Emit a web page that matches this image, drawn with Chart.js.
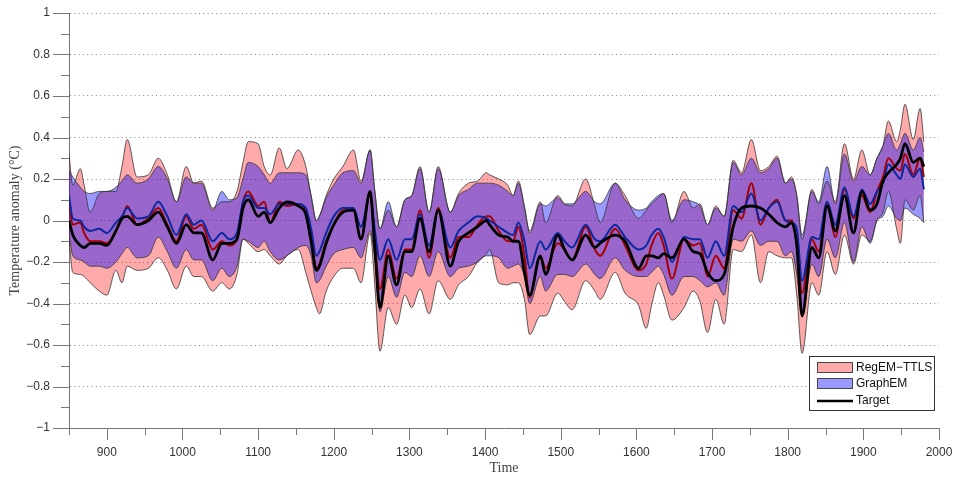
<!DOCTYPE html>
<html>
<head>
<meta charset="utf-8">
<script src="https://cdn.jsdelivr.net/npm/chart.js@4.4.0/dist/chart.umd.min.js"></script>
<style>
  html, body { margin: 0; background: #fff; }
  #wrap { width: 954px; height: 477px; }
</style>
</head>
<body>
<div id="wrap"><canvas id="chart" width="954" height="477"></canvas></div>
<script>
// Years of the readings (non-uniform, placed at the wiggles)
const years = [850,855,865,870,878,890,900,912,920,927,
  940,955,968,980,992,1005,1015,1025,1040,1052,
  1062,1072,1080,1087,1100,1108,1116,1128,1138,1153,
  1163,1170,1177,1181,1190,1200,1212,1226,1236,1248,
  1254,1261,1272,1283,1294,1303,1314,1326,1338,1354,
  1365,1378,1390,1402,1406,1418,1430,1437,1444,1452,
  1459,1473,1480,1496,1505,1515,1533,1545,1552,1572,
  1585,1603,1613,1620,1629,1636,1647,1663,1675,1684,
  1694,1705,1716,1728,1739,1752,1764,1775,1786,1797,
  1805,1812,1819,1832,1841,1852,1863,1875,1887,1898,
  1909,1918,1926,1933,1944,1949,1955,1966,1975,1980];

// RegEM-TTLS band
const regemUpper = [0.32,0.17,0.25,0.17,0.04,0.13,0.14,0.14,0.26,0.39,
  0.21,0.22,0.30,0.22,0.09,0.26,0.18,0.19,0.06,0.09,
  0.09,0.14,0.28,0.38,0.37,0.26,0.22,0.35,0.25,0.34,
  0.26,0.12,0.00,0.02,0.12,0.20,0.26,0.34,0.19,0.34,
  0.15,-0.04,0.05,-0.03,0.10,0.12,0.26,0.04,0.26,0.04,
  0.13,0.18,0.19,0.23,0.22,0.20,0.17,0.12,0.19,0.07,
  -0.05,0.09,-0.01,0.12,0.08,0.07,0.20,0.07,-0.01,0.18,
  0.12,0.01,0.05,0.08,0.11,0.13,-0.01,0.14,0.06,0.08,
  -0.02,0.07,0.02,0.29,0.23,0.39,0.24,0.26,0.31,0.18,
  0.21,0.12,-0.09,0.15,0.08,0.19,0.09,0.37,0.20,0.34,
  0.22,0.30,0.36,0.48,0.38,0.44,0.56,0.39,0.54,0.38];
const regemLower = [-0.09,-0.25,-0.26,-0.27,-0.30,-0.34,-0.36,-0.24,-0.30,-0.22,
  -0.24,-0.23,-0.18,-0.24,-0.33,-0.22,-0.27,-0.27,-0.34,-0.30,
  -0.33,-0.26,-0.09,-0.11,-0.15,-0.14,-0.17,-0.21,-0.17,-0.14,
  -0.25,-0.34,-0.42,-0.45,-0.34,-0.27,-0.23,-0.23,-0.30,-0.06,
  -0.30,-0.63,-0.42,-0.50,-0.36,-0.42,-0.33,-0.45,-0.29,-0.38,
  -0.31,-0.27,-0.20,-0.16,-0.14,-0.30,-0.31,-0.30,-0.30,-0.38,
  -0.55,-0.46,-0.46,-0.35,-0.39,-0.43,-0.29,-0.34,-0.38,-0.25,
  -0.35,-0.41,-0.52,-0.41,-0.30,-0.36,-0.48,-0.42,-0.34,-0.39,
  -0.54,-0.38,-0.50,-0.14,-0.15,-0.07,-0.30,-0.15,-0.17,-0.18,
  -0.18,-0.36,-0.64,-0.30,-0.36,-0.15,-0.26,-0.07,-0.21,-0.07,
  -0.10,0.00,0.04,0.14,-0.04,-0.11,0.10,0.05,0.12,-0.01];

// GraphEM band
const graphemUpper = [0.24,0.21,0.16,0.14,0.13,0.14,0.14,0.16,0.19,0.22,
  0.18,0.20,0.26,0.20,0.09,0.21,0.18,0.18,0.05,0.14,
  0.10,0.11,0.20,0.28,0.26,0.22,0.18,0.23,0.23,0.23,
  0.22,0.12,0.00,0.02,0.11,0.17,0.23,0.24,0.18,0.34,
  0.15,-0.04,0.09,-0.03,0.10,0.12,0.25,0.04,0.25,0.04,
  0.12,0.15,0.18,0.18,0.18,0.17,0.14,0.12,0.18,0.06,
  -0.06,0.08,0.07,0.11,0.08,0.08,0.14,0.09,0.08,0.18,
  0.10,0.05,0.06,0.09,0.12,0.13,0.00,0.10,0.09,0.07,
  -0.02,0.06,0.02,0.28,0.22,0.30,0.23,0.25,0.30,0.18,
  0.20,0.12,-0.07,0.14,0.09,0.26,0.08,0.32,0.19,0.26,
  0.22,0.30,0.36,0.42,0.34,0.37,0.42,0.34,0.40,0.33];
const graphemLower = [-0.06,-0.17,-0.19,-0.20,-0.22,-0.22,-0.23,-0.20,-0.16,-0.13,
  -0.18,-0.17,-0.08,-0.15,-0.23,-0.14,-0.19,-0.19,-0.29,-0.23,
  -0.27,-0.22,-0.09,-0.10,-0.13,-0.10,-0.15,-0.19,-0.17,-0.13,
  -0.12,-0.17,-0.30,-0.29,-0.22,-0.16,-0.14,-0.13,-0.18,-0.05,
  -0.18,-0.44,-0.27,-0.37,-0.25,-0.27,-0.17,-0.27,-0.15,-0.27,
  -0.23,-0.22,-0.20,-0.17,-0.17,-0.18,-0.23,-0.22,-0.21,-0.27,
  -0.40,-0.27,-0.34,-0.26,-0.26,-0.27,-0.21,-0.26,-0.28,-0.18,
  -0.24,-0.27,-0.27,-0.25,-0.22,-0.26,-0.36,-0.27,-0.27,-0.29,
  -0.32,-0.30,-0.36,-0.09,-0.10,-0.05,-0.12,-0.10,-0.10,-0.17,
  -0.15,-0.26,-0.46,-0.21,-0.27,-0.09,-0.18,-0.01,-0.20,-0.03,
  -0.11,0.00,0.02,0.07,0.01,0.00,0.06,0.03,0.01,-0.01];

// mean reconstructions and target
const regemMean = [0.08,-0.02,-0.01,-0.06,-0.10,-0.10,-0.11,-0.05,0.01,0.07,
  -0.02,0.01,0.06,-0.02,-0.10,0.02,-0.04,-0.02,-0.14,-0.10,
  -0.12,-0.09,0.09,0.14,0.07,0.09,-0.01,0.09,0.07,0.08,
  0.05,-0.07,-0.23,-0.21,-0.10,-0.02,0.05,0.05,-0.09,0.13,
  -0.09,-0.33,-0.14,-0.28,-0.14,-0.14,0.05,-0.18,0.06,-0.18,
  -0.08,-0.08,-0.02,0.02,0.02,-0.05,-0.10,-0.10,-0.03,-0.17,
  -0.37,-0.17,-0.23,-0.11,-0.14,-0.19,-0.03,-0.14,-0.17,-0.04,
  -0.12,-0.24,-0.21,-0.12,-0.06,-0.12,-0.28,-0.09,-0.12,-0.11,
  -0.27,-0.17,-0.23,0.05,0.01,0.18,-0.02,0.06,0.10,0.00,
  0.00,-0.10,-0.35,-0.09,-0.15,0.08,-0.08,0.15,0.01,0.12,
  0.04,0.14,0.21,0.30,0.25,0.24,0.32,0.22,0.30,0.21];
const graphemMean = [0.12,0.01,0.00,-0.03,-0.05,-0.04,-0.06,-0.01,0.02,0.06,
  0.01,0.02,0.09,0.02,-0.07,0.03,-0.02,0.00,-0.10,-0.06,
  -0.09,-0.06,0.09,0.12,0.06,0.06,0.03,0.08,0.08,0.08,
  0.06,-0.04,-0.17,-0.15,-0.06,0.02,0.06,0.06,-0.03,0.13,
  -0.04,-0.19,-0.09,-0.19,-0.09,-0.09,0.03,-0.12,0.05,-0.13,
  -0.05,-0.01,0.02,0.01,0.00,-0.03,-0.06,-0.07,-0.01,-0.10,
  -0.23,-0.10,-0.14,-0.06,-0.10,-0.13,-0.02,-0.09,-0.10,-0.02,
  -0.08,-0.14,-0.12,-0.07,-0.04,-0.08,-0.20,-0.08,-0.09,-0.09,
  -0.18,-0.10,-0.17,0.07,0.04,0.13,0.00,0.06,0.09,0.00,
  -0.01,-0.04,-0.29,-0.08,-0.09,0.09,-0.02,0.16,0.02,0.15,
  0.08,0.14,0.18,0.27,0.22,0.20,0.27,0.21,0.25,0.15];
const target = [0.00,-0.07,-0.12,-0.13,-0.11,-0.11,-0.12,-0.05,0.01,0.02,
  -0.02,0.00,0.04,-0.03,-0.11,-0.02,-0.06,-0.06,-0.19,-0.11,
  -0.11,-0.09,0.06,0.10,0.02,0.04,-0.01,0.06,0.09,0.07,
  0.03,-0.10,-0.24,-0.22,-0.11,-0.02,0.04,0.05,-0.09,0.14,
  -0.12,-0.42,-0.17,-0.31,-0.15,-0.15,0.01,-0.15,0.05,-0.22,
  -0.10,-0.06,-0.03,0.00,-0.02,-0.07,-0.08,-0.10,-0.10,-0.25,
  -0.36,-0.17,-0.26,-0.07,-0.14,-0.19,-0.07,-0.13,-0.11,-0.07,
  -0.10,-0.23,-0.17,-0.17,-0.18,-0.16,-0.18,-0.09,-0.15,-0.16,
  -0.25,-0.29,-0.26,-0.03,0.06,0.07,0.06,0.03,-0.01,-0.03,
  -0.01,-0.12,-0.46,-0.13,-0.18,0.07,-0.05,0.12,-0.06,0.14,
  0.05,0.08,0.19,0.23,0.27,0.30,0.37,0.28,0.30,0.26];

// axis ticks
const xTickYears = [900,1000,1100,1200,1300,1400,1500,1600,1700,1800,1900,2000];
const yTickValues = [-1,-0.8,-0.6,-0.4,-0.2,0,0.2,0.4,0.6,0.8,1];

const pts = arr => years.map((yr, i) => ({ x: yr, y: arr[i] }));
const sansFont = "'Liberation Sans', Arial, sans-serif";
const serifFont = "'Liberation Serif', 'Times New Roman', serif";

// major/minor tick marks drawn outside the axes, matlab style
const axisTicks = {
  id: 'axisTicks',
  afterDraw(chart) {
    const { ctx, chartArea, scales: { x, y } } = chart;
    ctx.save();
    ctx.strokeStyle = '#777';
    ctx.lineWidth = 1;
    ctx.beginPath();
    for (let v = 850; v <= 2000; v += 50) {
      const px = Math.round(x.getPixelForValue(v)) + 0.5;
      const len = v % 100 === 0 ? 12 : 7;
      ctx.moveTo(px, chartArea.bottom);
      ctx.lineTo(px, chartArea.bottom + len);
    }
    for (let i = -10; i <= 10; i++) {
      const py = Math.round(y.getPixelForValue(i / 10)) + 0.5;
      const len = i % 2 === 0 ? 16 : 8;
      ctx.moveTo(chartArea.left - len, py);
      ctx.lineTo(chartArea.left, py);
    }
    ctx.stroke();
    ctx.restore();
  }
};

// legend box in the lower right corner of the plot
const cornerLegend = {
  id: 'cornerLegend',
  afterDraw(chart) {
    const ctx = chart.ctx;
    const x0 = 809, y0 = 356, w = 125, h = 54;
    ctx.save();
    ctx.fillStyle = '#fff';
    ctx.fillRect(x0, y0, w, h);
    ctx.strokeStyle = '#333';
    ctx.lineWidth = 1;
    ctx.strokeRect(x0 + 0.5, y0 + 0.5, w, h);

    ctx.fillStyle = '#ffaaaa';
    ctx.fillRect(817, 362, 35, 10);
    ctx.strokeStyle = '#444';
    ctx.strokeRect(817.5, 362.5, 35, 10);
    ctx.fillStyle = '#9999ff';
    ctx.fillRect(817, 378, 35, 10);
    ctx.strokeRect(817.5, 378.5, 35, 10);

    ctx.strokeStyle = '#000';
    ctx.lineWidth = 2.5;
    ctx.beginPath();
    ctx.moveTo(817, 401);
    ctx.lineTo(853, 401);
    ctx.stroke();

    ctx.fillStyle = '#111';
    ctx.font = '12px ' + sansFont;
    ctx.textBaseline = 'middle';
    ctx.fillText('RegEM\u2212TTLS', 856, 368);
    ctx.fillText('GraphEM', 856, 384);
    ctx.fillText('Target', 856, 401);
    ctx.restore();
  }
};

const bandEdge = { borderColor: '#333', borderWidth: 0.8, pointRadius: 0 };

new Chart(document.getElementById('chart'), {
  type: 'line',
  data: {
    datasets: [
      { label: 'RegEM-TTLS', data: pts(regemUpper), fill: { target: 1 },
        backgroundColor: 'rgba(255, 0, 0, 0.333)', order: 6, ...bandEdge },
      { label: 'RegEM lower', data: pts(regemLower), fill: false, order: 6, ...bandEdge },
      { label: 'GraphEM', data: pts(graphemUpper), fill: { target: 3 },
        backgroundColor: 'rgba(0, 0, 255, 0.4)', order: 5, ...bandEdge },
      { label: 'GraphEM lower', data: pts(graphemLower), fill: false, order: 5, ...bandEdge },
      { label: 'RegEM mean', data: pts(regemMean), borderColor: '#a80000',
        borderWidth: 2, pointRadius: 0, fill: false, order: 3 },
      { label: 'GraphEM mean', data: pts(graphemMean), borderColor: '#0a28a0',
        borderWidth: 2, pointRadius: 0, fill: false, order: 2 },
      { label: 'Target', data: pts(target), borderColor: '#000',
        borderWidth: 2.8, pointRadius: 0, fill: false, order: 1 }
    ]
  },
  options: {
    responsive: false,
    animation: false,
    devicePixelRatio: 1,
    cubicInterpolationMode: 'monotone',
    layout: { padding: 0 },
    plugins: {
      legend: { display: false },
      tooltip: { enabled: false },
      filler: { drawTime: 'beforeDatasetsDraw' }
    },
    scales: {
      x: {
        type: 'linear',
        min: 850,
        max: 2000,
        afterBuildTicks: s => { s.ticks = xTickYears.map(v => ({ value: v })); },
        afterFit: s => {
          s.height = 49;
          s.paddingLeft = 0;
          s.paddingRight = 15;
        },
        grid: { display: false, drawTicks: false },
        border: { display: true, color: '#777', width: 1 },
        ticks: {
          autoSkip: false,
          maxRotation: 0,
          padding: 17,
          color: '#333',
          font: { family: sansFont, size: 12 },
          callback: v => String(v)
        },
        title: {
          display: true,
          text: 'Time',
          color: '#444',
          font: { family: serifFont, size: 14 },
          padding: { top: 0, bottom: 0 }
        }
      },
      y: {
        min: -1,
        max: 1,
        afterBuildTicks: s => { s.ticks = yTickValues.map(v => ({ value: v })); },
        afterFit: s => {
          s.width = 69;
          s.paddingTop = 13;
          s.paddingBottom = 0;
        },
        grid: {
          drawTicks: false,
          color: c => (c.tick && c.tick.value > -0.99) ? 'rgba(110,110,110,0.85)' : 'rgba(0,0,0,0)',
          lineWidth: 1
        },
        border: { display: true, color: '#777', width: 1, dash: [1, 3.3] },
        ticks: {
          padding: 19,
          color: '#333',
          font: { family: sansFont, size: 12 },
          callback: v => {
            const r = Math.round(v * 10) / 10;
            return r < 0 ? '\u2212' + String(Math.abs(r)) : String(r);
          }
        },
        title: {
          display: true,
          text: 'Temperature anomaly (\u00B0C)',
          color: '#444',
          font: { family: serifFont, size: 14 },
          padding: { top: 7, bottom: 0 }
        }
      }
    }
  },
  plugins: [axisTicks, cornerLegend]
});
</script>
</body>
</html>
